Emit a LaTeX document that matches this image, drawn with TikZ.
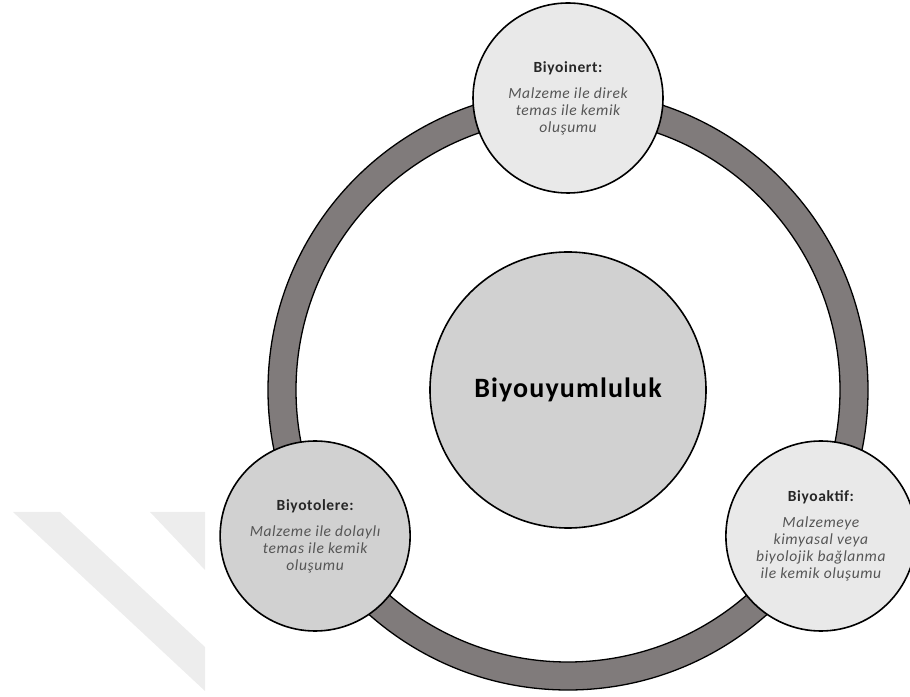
\documentclass[tikz,border=0pt]{standalone}
\usepackage{fontspec}
\setmainfont{Carlito}[LetterSpace=4]

\definecolor{halka}{RGB}{128,123,123}
\definecolor{acik}{RGB}{233,233,233}
\definecolor{koyu}{RGB}{209,209,209}
\definecolor{baslik}{RGB}{38,38,38}
\definecolor{yazi}{RGB}{85,85,85}
\definecolor{filigran}{RGB}{237,237,237}

\begin{document}
\begin{tikzpicture}[x=1pt, y=1pt,
  daire/.style = {circle, draw=black, line width=1.6pt, inner sep=0pt,
    minimum size=190pt, align=center, text=yazi,
    font=\fontsize{15.5}{17}\selectfont\itshape},
  ana/.style = {circle, draw=black, line width=1.6pt, inner sep=0pt,
    minimum size=276pt, fill=koyu, text=black,
    font=\fontsize{28}{32}\selectfont\bfseries},
  ]

\useasboundingbox (0,0) rectangle (910,696);

% Faint watermark stripes in the lower left corner.
\fill[filigran] (13,184) -- (60,184) -- (205,49) -- (205,5) -- cycle;
\fill[filigran] (150,184) -- (205,184) -- (205,126) -- cycle;

% Ring behind the circles.
\coordinate (merkez) at (568,306);
\draw[line width=1.3pt, fill=halka, even odd rule]
  (merkez) circle[radius=300] (merkez) circle[radius=272];

% Central circle.
\node[ana] (orta) at (merkez) {Biyouyumluluk};

% Three circles on the ring.
\node[daire, fill=acik] (inert) at ([shift={(90:292)}]merkez)
  {{\upshape\bfseries\color{baslik}Biyoinert:}\\[9pt]
   Malzeme ile direk\\ temas ile kemik\\ oluşumu};
\node[daire, fill=koyu] (tolere) at ([shift={(210:292)}]merkez)
  {{\upshape\bfseries\color{baslik}Biyotolere:}\\[9pt]
   Malzeme ile dolaylı\\ temas ile kemik\\ oluşumu};
\node[daire, fill=acik] (aktif) at ([shift={(330:292)}]merkez)
  {{\upshape\bfseries\color{baslik}Biyoaktif:}\\[9pt]
   Malzemeye\\ kimyasal veya\\ biyolojik bağlanma\\ ile kemik oluşumu};

\end{tikzpicture}
\end{document}
